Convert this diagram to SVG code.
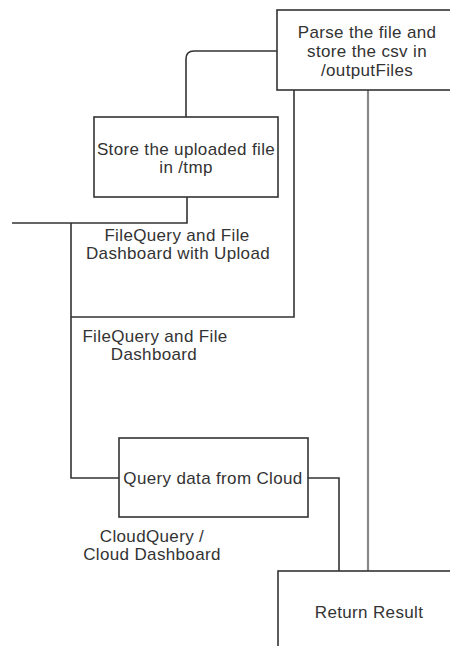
<svg xmlns="http://www.w3.org/2000/svg" width="450" height="646" viewBox="0 0 450 646">
  <style>
    .box { fill: #ffffff; stroke: #333333; stroke-width: 1.6; }
    .wire { fill: none; stroke: #333333; stroke-width: 1.6; }
    .grey { fill: none; stroke: #888888; stroke-width: 2.2; }
    text { font-family: "Liberation Sans", Arial, sans-serif; font-size: 17px; letter-spacing: 0.35px; fill: #333333; text-anchor: middle; }
  </style>
  <rect width="450" height="646" fill="#ffffff"/>

  <g id="connectors">
    <!-- store box up to parse box -->
    <path class="wire" d="M186,117 V59 Q186,51 194,51 H277"/>
    <!-- store box down to the incoming line -->
    <path class="wire" d="M187,197 V223 H12"/>
    <!-- left trunk to query box -->
    <path class="wire" d="M71,223 V478 H119"/>
    <!-- parse box down to the trunk -->
    <path class="wire" d="M294,90 V317 H71"/>
    <!-- query box to result -->
    <path class="wire" d="M308,478 H339 V571"/>
    <!-- parse box straight to result -->
    <path class="grey" d="M368,90 V571"/>
  </g>

  <g id="parse">
    <rect class="box" x="277" y="10" width="180" height="80"/>
    <text x="367" y="38">Parse the file and</text>
    <text x="367" y="57">store the csv in</text>
    <text x="367" y="76">/outputFiles</text>
  </g>

  <g id="store">
    <rect class="box" x="94" y="117" width="184" height="80"/>
    <text x="186" y="155">Store the uploaded file</text>
    <text x="186" y="173">in /tmp</text>
  </g>

  <g id="query">
    <rect class="box" x="119" y="438" width="189" height="79"/>
    <text x="213" y="484">Query data from Cloud</text>
  </g>

  <g id="result">
    <rect class="box" x="278" y="571" width="180" height="90"/>
    <text x="369" y="618">Return Result</text>
  </g>

  <g id="labels">
    <text x="177" y="241">FileQuery and File</text>
    <text x="178" y="259">Dashboard with Upload</text>
    <text x="155" y="342">FileQuery and File</text>
    <text x="154" y="360">Dashboard</text>
    <text x="152" y="542">CloudQuery /</text>
    <text x="152" y="560">Cloud Dashboard</text>
  </g>
</svg>
